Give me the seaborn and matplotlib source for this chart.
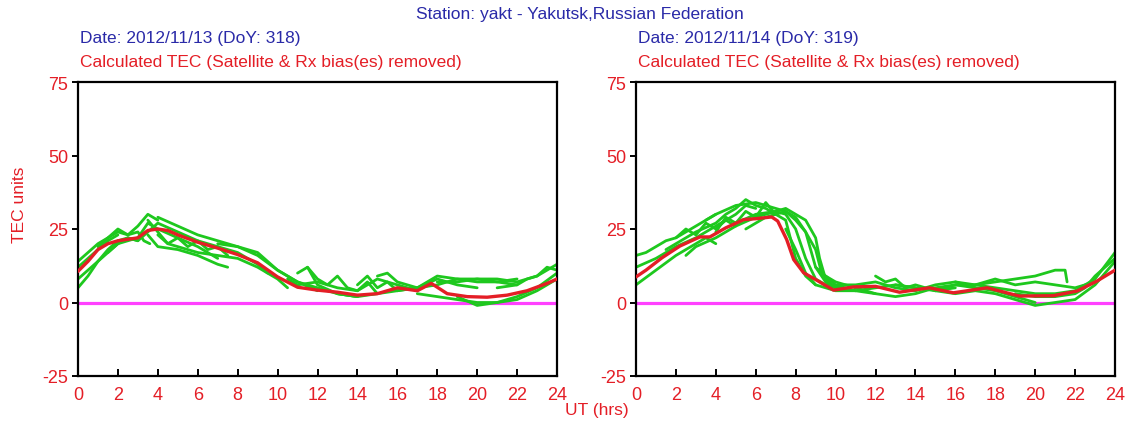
import pandas as pd
import matplotlib
matplotlib.use("Agg")
import matplotlib.pyplot as plt
import seaborn as sns

# --- data (UT hours, TEC units) ---
# day 1: 2012/11/13, satellite arcs (green)
left_arcs = [
    ([0, 0.5, 1, 1.5, 2, 2.5, 3, 3.5, 4], [14, 17, 20, 22, 24, 23, 26, 30, 28]),
    ([0, 1, 2, 3, 3.5, 4, 5, 6, 7], [8, 14, 20, 22, 27, 25, 22, 19, 15]),
    ([0, 0.5, 1, 1.5, 2, 2.5, 3], [5, 9, 14, 18, 21, 22, 21]),
    ([0, 0.5, 1, 1.5, 2], [12, 15, 18, 21, 23]),
    ([1, 1.5, 2, 2.5, 3, 3.3, 3.6], [19, 22, 25, 23, 24, 21, 20]),
    ([1.5, 2, 2.5, 3, 3.5, 4, 5, 6, 7, 8, 9, 9.5], [17, 20, 22, 21, 24, 27, 24, 21, 19, 17, 13, 10]),
    ([3.5, 4, 4.5, 5, 6, 7, 8, 9, 10, 10.5], [28, 24, 20, 19, 17, 16, 15, 12, 8, 5]),
    ([3.5, 4, 5, 6, 7, 7.5], [23, 19, 18, 16, 13, 12]),
    ([4, 4.5, 5, 5.5, 6, 6.5, 7, 7.5], [23, 20, 22, 19, 21, 18, 19, 16]),
    ([4, 5, 6, 7, 8, 9, 10, 11, 12], [29, 26, 23, 21, 19, 16, 11, 7, 4]),
    ([7, 8, 9, 9.5, 10, 11, 12, 13, 14], [20, 19, 17, 14, 11, 7, 5, 3, 2]),
    ([11, 11.5, 12, 13, 14], [10, 12, 6, 3, 2]),
    ([10.5, 11, 12, 13, 14, 15, 16, 17], [8, 6, 7, 5, 4, 8, 6, 4]),
    ([11.5, 12, 12.5, 13, 13.5, 14, 14.5, 15], [12, 8, 6, 9, 5, 4, 7, 3]),
    ([13, 14, 15, 16, 17, 18, 19, 20], [3, 2, 3, 4, 5, 8, 6, 5]),
    ([14, 14.5, 15, 15.5, 16, 17, 18, 19, 20, 21, 22], [6, 9, 5, 7, 4, 5, 9, 8, 8, 7, 8]),
    ([15, 15.5, 16, 17, 18, 19, 20, 21, 22], [9, 10, 7, 5, 6, 8, 7, 7, 6]),
    ([17, 18, 19, 20, 21, 22, 23, 24], [3, 2, 1, 0, 0, 1, 4, 8]),
    ([18, 19, 20, 21, 22, 23, 24], [7, 7, 8, 8, 7, 9, 13]),
    ([19, 20, 21, 22, 23, 24], [2, -1, 0, 2, 5, 10]),
    ([21, 22, 22.5, 23, 23.5, 24], [5, 6, 8, 9, 12, 11]),
]
left_mean_t = [0, 0.5, 1, 1.5, 2, 2.5, 3, 3.5, 4, 4.5, 5, 6, 7, 8, 9, 10, 11, 12,
               13, 14, 15, 16, 17, 17.7, 18.5, 19.5, 20.5, 21.5, 22.5, 23.5, 24]
left_mean = [10.6, 14, 18, 20, 21, 21.5, 22, 24.5, 25, 24.5, 23, 20.5, 18.5, 16.3, 13.5,
             8.7, 5.2, 4.2, 3.5, 2.5, 3, 5, 4, 6.5, 3, 2, 1.8, 2.5, 4, 6.5, 8]

# day 2: 2012/11/14
right_arcs = [
    ([0, 0.5, 1, 1.5, 2, 2.5, 3, 3.5, 4], [16, 17, 19, 21, 22, 24, 26, 28, 30]),
    ([0, 1, 2, 3, 4, 5, 5.5, 6], [12, 15, 19, 22, 26, 30, 33, 32]),
    ([0, 1, 2, 3, 3.5, 4], [6, 11, 16, 20, 22, 20]),
    ([1.5, 2, 3, 4, 4.5, 5, 5.5, 6, 6.5, 7, 7.5, 8, 8.5, 9], [18, 20, 24, 27, 30, 32, 35, 33, 32, 30, 28, 15, 9, 6]),
    ([2, 2.5, 3, 3.5, 4, 4.5, 5], [22, 25, 23, 27, 25, 28, 26]),
    ([2.5, 3, 4, 5, 6, 7, 7.5, 8, 8.5, 9, 9.5, 10], [16, 19, 22, 26, 29, 31, 30, 25, 15, 8, 6, 5]),
    ([3.5, 4, 5, 6, 7, 7.5, 8, 8.5, 9, 9.5, 10, 11], [28, 30, 33, 34, 32, 31, 29, 24, 12, 7, 5, 4]),
    ([4, 4.5, 5, 5.5, 6, 6.5, 7], [24, 29, 27, 31, 29, 34, 30]),
    ([5, 6, 7, 7.5, 8, 8.5, 9, 9.2, 9.5, 10, 11, 12], [27, 30, 31, 32, 30, 28, 22, 15, 8, 5, 4, 3]),
    ([5.5, 6, 6.5, 7, 7.5, 8, 8.5, 9, 9.3, 9.8, 10.5], [25, 27, 29, 30, 31, 28, 24, 18, 10, 6, 5]),
    ([7.5, 8, 8.5, 9, 10, 11, 12, 13, 14], [25, 18, 10, 6, 4, 4, 5, 6, 5]),
    ([9, 9.5, 10, 10.5, 11], [12, 9, 7, 6, 5]),
    ([9.5, 10, 11, 12, 13, 14, 15, 16, 17], [9, 6, 6, 7, 5, 4, 6, 7, 5]),
    ([11, 12, 13, 14, 15, 16, 17, 18, 19, 20], [5, 3, 2, 3, 5, 6, 5, 4, 2, 0]),
    ([12, 12.5, 13, 13.5, 14, 15, 16], [9, 7, 8, 5, 6, 4, 5]),
    ([13, 14, 15, 16, 17, 18, 19, 20, 21, 21.5, 21.6], [6, 5, 4, 6, 6, 7, 8, 9, 11, 11, 7]),
    ([15, 16, 17, 18, 19, 20, 21, 22, 23, 24], [4, 3, 4, 3, 1, -1, 0, 1, 6, 14]),
    ([16, 17, 18, 19, 20, 21, 22, 23], [7, 6, 8, 6, 7, 6, 5, 7]),
    ([17, 18, 19, 20, 21, 22, 23, 24], [6, 5, 4, 3, 3, 4, 8, 17]),
    ([19, 20, 21, 22, 22.5, 23, 23.5, 24], [3, 2, 2, 3, 5, 9, 12, 15]),
]
right_mean_t = [0, 0.5, 1.3, 2.2, 3.2, 3.7, 4.5, 5.4, 6, 6.8, 7.1, 7.55, 7.9, 8.4, 9,
                9.9, 10.9, 12, 13.2, 14.7, 15.9, 17.6, 19.2, 20.9, 22.1, 23.1, 24]
right_mean = [8.7, 11, 15.2, 19.2, 22.3, 22.3, 25.4, 28.2, 28.5, 29.1, 27.7, 21.4, 14.6,
              10.1, 7.8, 4.2, 5.3, 5.5, 3.5, 5, 3.3, 5, 2.2, 2.3, 3.9, 7.3, 11]

dates = ["Date: 2012/11/13 (DoY: 318)", "Date: 2012/11/14 (DoY: 319)"]
station = "Station: yakt - Yakutsk,Russian Federation"
subtitle = "Calculated TEC (Satellite & Rx bias(es) removed)"
xticks = list(range(0, 25, 2))
yticks = [-25, 0, 25, 50, 75]

RED = "#e41e26"
BLUE = "#2a2aa8"
GREEN = "#1ec81e"
MAGENTA = "#ff40ff"

sns.set_style("white")
plt.rcParams["font.family"] = ["Liberation Sans", "DejaVu Sans"]
plt.rcParams["axes.unicode_minus"] = False

fig = plt.figure(figsize=(11.28, 4.27), dpi=100)
ax_l = fig.add_axes([78 / 1128, 50 / 427, 479 / 1128, 294 / 427])
ax_r = fig.add_axes([636 / 1128, 50 / 427, 479 / 1128, 294 / 427])


def arcs_frame(arcs):
    rows = []
    for i, (t, v) in enumerate(arcs):
        for a, b in zip(t, v):
            rows.append({"arc": i, "ut": a, "tec": b})
    return pd.DataFrame(rows)


for ax, arcs, mt, mv in [(ax_l, left_arcs, left_mean_t, left_mean),
                         (ax_r, right_arcs, right_mean_t, right_mean)]:
    ax.axhline(0, color=MAGENTA, lw=2.3, zorder=1)
    sns.lineplot(data=arcs_frame(arcs), x="ut", y="tec", units="arc", estimator=None,
                 sort=False, color=GREEN, lw=2.0, ax=ax, zorder=2)
    sns.lineplot(x=mt, y=mv, color=RED, lw=2.4, ax=ax, zorder=3)
    ax.set_xlim(0, 24)
    ax.set_ylim(-25, 75)
    ax.set_xticks(xticks)
    ax.set_yticks(yticks)
    ax.set_xlabel("")
    ax.set_ylabel("")
    for s in ax.spines.values():
        s.set_visible(True)
        s.set_color("black")
        s.set_linewidth(1.6)
    ax.tick_params(axis="x", bottom=True, direction="in", length=5, width=1.4, color="black",
                   labelcolor=RED, labelsize=13, pad=7)
    ax.tick_params(axis="y", left=True, direction="out", length=4, width=1.4, color="black",
                   labelcolor=RED, labelsize=13, pad=3)
    ax.grid(False)

fig.text(580 / 1128, 1 - 15 / 427, station, color=BLUE, fontsize=12.5, ha="center", va="center")
for x0, d in zip([80, 638], dates):
    fig.text(x0 / 1128, 1 - 39 / 427, d, color=BLUE, fontsize=12.5, ha="left", va="center")
    fig.text(x0 / 1128, 1 - 63 / 427, subtitle, color=RED, fontsize=12.5, ha="left", va="center")
fig.text(597 / 1128, 1 - 411 / 427, "UT (hrs)", color=RED, fontsize=12.5, ha="center", va="center")
fig.text(20 / 1128, 1 - 205 / 427, "TEC units", color=RED, fontsize=12.5, ha="center",
         va="center", rotation=90)

fig.savefig("out.png", dpi=100)
